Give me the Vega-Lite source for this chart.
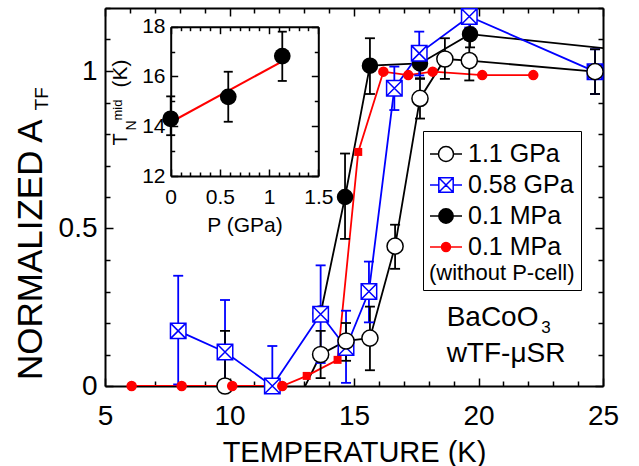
{
  "$schema": "https://vega.github.io/schema/vega-lite/v6.json",
  "width": 498,
  "height": 378,
  "autosize": {"type": "none"},
  "padding": {"left": 105, "top": 8, "right": 36, "bottom": 80},
  "background": "white",
  "config": {
    "view": {"stroke": null},
    "font": "Liberation Sans",
    "axis": {"grid": false, "domainColor": "black", "tickColor": "black", "labelColor": "black", "titleColor": "black", "titleFontWeight": "normal", "labelFont": "Liberation Sans", "titleFont": "Liberation Sans", "domainWidth": 2, "tickWidth": 1.5, "labelFlush": false, "labelOverlap": false},
    "legend": {
      "orient": "none", "legendX": 318, "legendY": 123,
      "titleOrient": "bottom", "titleAnchor": "start", "titleFontSize": 22, "titleFontWeight": "normal", "titlePadding": 3, "titleColor": "black", "titleFont": "Liberation Sans",
      "labelFontSize": 25, "labelFont": "Liberation Sans", "labelColor": "black", "labelOffset": 5, "labelLimit": 300,
      "symbolSize": 1024, "symbolOpacity": 1, "symbolStrokeWidth": 1.5, "rowPadding": 1, "padding": 6,
      "strokeColor": "black", "fillColor": "white"
    },
    "text": {"font": "Liberation Sans", "color": "black"}
  },
  "datasets": {
    "main": [
      {"series": "0.1 MPa", "T": 13.66, "A": 0.23},
      {"series": "0.1 MPa", "T": 14.64, "A": 0.60, "lo": 0.467, "hi": 0.738},
      {"series": "0.1 MPa", "T": 15.64, "A": 1.017, "lo": 0.927, "hi": 1.104},
      {"series": "0.1 MPa", "T": 17.65, "A": 1.024, "lo": 0.975, "hi": 1.075},
      {"series": "0.1 MPa", "T": 19.66, "A": 1.117, "lo": 1.075, "hi": 1.155},
      {"series": "0.1 MPa", "T": 26.0, "A": 1.064},
      {"series": "0.58 GPa", "T": 7.94, "A": 0.175, "lo": 0.005, "hi": 0.35},
      {"series": "0.58 GPa", "T": 9.82, "A": 0.108, "lo": -0.057, "hi": 0.273},
      {"series": "0.58 GPa", "T": 11.72, "A": 0.0, "lo": -0.13, "hi": 0.127},
      {"series": "0.58 GPa", "T": 13.66, "A": 0.228, "lo": 0.073, "hi": 0.383},
      {"series": "0.58 GPa", "T": 14.68, "A": 0.122, "lo": 0.01, "hi": 0.239},
      {"series": "0.58 GPa", "T": 15.6, "A": 0.30, "lo": 0.202, "hi": 0.395},
      {"series": "0.58 GPa", "T": 16.62, "A": 0.945, "lo": 0.876, "hi": 1.014},
      {"series": "0.58 GPa", "T": 17.62, "A": 1.056, "lo": 0.986, "hi": 1.125},
      {"series": "0.58 GPa", "T": 19.63, "A": 1.173, "lo": 1.138, "hi": 1.205},
      {"series": "0.58 GPa", "T": 24.68, "A": 0.998, "lo": 0.927, "hi": 1.069},
      {"series": "1.1 GPa", "T": 9.82, "A": 0.0, "lo": -0.175, "hi": 0.175},
      {"series": "1.1 GPa", "T": 11.8, "A": -0.2},
      {"series": "1.1 GPa", "T": 13.66, "A": 0.10, "lo": 0.025, "hi": 0.175},
      {"series": "1.1 GPa", "T": 14.68, "A": 0.143, "lo": 0.08, "hi": 0.20},
      {"series": "1.1 GPa", "T": 15.64, "A": 0.152, "lo": 0.05, "hi": 0.252},
      {"series": "1.1 GPa", "T": 16.65, "A": 0.444, "lo": 0.372, "hi": 0.512},
      {"series": "1.1 GPa", "T": 17.65, "A": 0.913, "lo": 0.849, "hi": 0.977},
      {"series": "1.1 GPa", "T": 18.65, "A": 1.038, "lo": 0.975, "hi": 1.104},
      {"series": "1.1 GPa", "T": 19.63, "A": 1.033, "lo": 0.97, "hi": 1.10},
      {"series": "1.1 GPa", "T": 24.68, "A": 0.998, "lo": 0.927, "hi": 1.069},
      {"series": "0.1 MPa (without P-cell)", "T": 6.07, "A": 0.0},
      {"series": "0.1 MPa (without P-cell)", "T": 8.08, "A": 0.0},
      {"series": "0.1 MPa (without P-cell)", "T": 10.11, "A": 0.0},
      {"series": "0.1 MPa (without P-cell)", "T": 12.12, "A": 0.0},
      {"series": "0.1 MPa (without P-cell)", "T": 13.1, "A": 0.032, "scan": "fine"},
      {"series": "0.1 MPa (without P-cell)", "T": 14.34, "A": 0.083, "scan": "fine"},
      {"series": "0.1 MPa (without P-cell)", "T": 15.17, "A": 0.743, "scan": "fine"},
      {"series": "0.1 MPa (without P-cell)", "T": 16.18, "A": 0.998},
      {"series": "0.1 MPa (without P-cell)", "T": 17.18, "A": 0.987},
      {"series": "0.1 MPa (without P-cell)", "T": 18.16, "A": 0.998},
      {"series": "0.1 MPa (without P-cell)", "T": 20.15, "A": 0.987},
      {"series": "0.1 MPa (without P-cell)", "T": 22.2, "A": 0.987}
    ],
    "inset": [
      {"P": 0, "Tn": 14.3, "lo": 13.64, "hi": 15.2},
      {"P": 0.585, "Tn": 15.18, "lo": 14.18, "hi": 16.19},
      {"P": 1.134, "Tn": 16.82, "lo": 15.82, "hi": 17.8}
    ],
    "fit": [
      {"P": 0, "Tn": 14.16},
      {"P": 1.19, "Tn": 16.73}
    ]
  },
  "layer": [
    {
      "data": {"name": "main"},
      "layer": [
        {
          "mark": {"type": "line", "strokeWidth": 1.8, "clip": true},
          "encoding": {
            "x": {"field": "T", "type": "quantitative", "scale": {"domain": [5, 25], "nice": false},
              "axis": {"orient": "bottom", "values": [5,6,7,8,9,10,11,12,13,14,15,16,17,18,19,20,21,22,23,24,25], "format": "~g",
                "tickSize": {"condition": {"test": "datum.value % 5 === 0", "value": -8}, "value": -5},
                "labelExpr": "datum.value % 5 === 0 ? datum.label : ''",
                "labelPadding": 24, "labelFontSize": 28, "title": "TEMPERATURE (K)", "titleFontSize": 29, "titlePadding": 5}},
            "y": {"field": "A", "type": "quantitative", "scale": {"domain": [0, 1.2], "nice": false},
              "axis": {"orient": "left", "values": [0,0.1,0.2,0.3,0.4,0.5,0.6,0.7,0.8,0.9,1,1.1,1.2], "format": "~g",
                "tickSize": {"condition": {"test": "round(datum.value*10) % 5 === 0", "value": -8}, "value": -5},
                "labelExpr": "round(datum.value*10) % 5 === 0 ? datum.label : ''",
                "labelPadding": 16, "labelFontSize": 28, "title": null}},
            "color": {"field": "series", "type": "nominal", "scale": {"domain": ["0.58 GPa", "1.1 GPa", "0.1 MPa", "0.1 MPa (without P-cell)"], "range": ["blue", "black", "black", "red"]}, "legend": null}
          }
        },
        {
          "transform": [{"filter": "isValid(datum.lo)"}],
          "mark": {"type": "rule", "strokeWidth": 1.8, "clip": true},
          "encoding": {
            "x": {"field": "T", "type": "quantitative", "scale": {"domain": [5, 25], "nice": false},
              "axis": {"orient": "top", "values": [5,6,7,8,9,10,11,12,13,14,15,16,17,18,19,20,21,22,23,24,25],
                "tickSize": {"condition": {"test": "datum.value % 5 === 0", "value": -8}, "value": -5},
                "labels": false, "title": null}},
            "y": {"field": "lo", "type": "quantitative", "scale": {"domain": [0, 1.2], "nice": false},
              "axis": {"orient": "right", "values": [0,0.1,0.2,0.3,0.4,0.5,0.6,0.7,0.8,0.9,1,1.1,1.2],
                "tickSize": {"condition": {"test": "round(datum.value*10) % 5 === 0", "value": -8}, "value": -5},
                "labels": false, "title": null}},
            "y2": {"field": "hi"},
            "color": {"field": "series", "type": "nominal", "scale": {"domain": ["0.58 GPa", "1.1 GPa", "0.1 MPa", "0.1 MPa (without P-cell)"], "range": ["blue", "black", "black", "red"]}, "legend": null}
          }
        },
        {
          "transform": [{"filter": "isValid(datum.hi)"}],
          "mark": {"type": "point", "shape": "stroke", "filled": false, "size": 100, "strokeWidth": 1.8, "opacity": 1, "clip": true},
          "encoding": {
            "x": {"field": "T", "type": "quantitative", "scale": {"domain": [5, 25], "nice": false}, "axis": null},
            "y": {"field": "hi", "type": "quantitative", "scale": {"domain": [0, 1.2], "nice": false}, "axis": null},
            "color": {"field": "series", "type": "nominal", "scale": {"domain": ["0.58 GPa", "1.1 GPa", "0.1 MPa", "0.1 MPa (without P-cell)"], "range": ["blue", "black", "black", "red"]}, "legend": null}
          }
        },
        {
          "transform": [{"filter": "isValid(datum.lo)"}],
          "mark": {"type": "point", "shape": "stroke", "filled": false, "size": 100, "strokeWidth": 1.8, "opacity": 1, "clip": true},
          "encoding": {
            "x": {"field": "T", "type": "quantitative", "scale": {"domain": [5, 25], "nice": false}, "axis": null},
            "y": {"field": "lo", "type": "quantitative", "scale": {"domain": [0, 1.2], "nice": false}, "axis": null},
            "color": {"field": "series", "type": "nominal", "scale": {"domain": ["0.58 GPa", "1.1 GPa", "0.1 MPa", "0.1 MPa (without P-cell)"], "range": ["blue", "black", "black", "red"]}, "legend": null}
          }
        },
        {
          "transform": [{"filter": "datum.T <= 25 && datum.A >= -0.05 && datum.scan !== 'fine'"}],
          "mark": {"type": "point", "filled": true, "strokeWidth": 1.5, "opacity": 1},
          "encoding": {
            "x": {"field": "T", "type": "quantitative", "scale": {"domain": [5, 25], "nice": false}, "axis": null},
            "y": {"field": "A", "type": "quantitative", "scale": {"domain": [0, 1.2], "nice": false}, "axis": null},
            "shape": {"condition": {"test": "datum.series === '0.58 GPa'", "value": "M-1,-1H1V1H-1ZM-1,-1L1,1M1,-1L-1,1"}, "value": "circle"},
            "fill": {"condition": [
              {"test": "datum.series === '0.1 MPa'", "value": "black"},
              {"test": "datum.series === '0.1 MPa (without P-cell)'", "value": "red"}
            ], "value": "white"},
            "stroke": {"condition": [
              {"test": "datum.series === '0.58 GPa'", "value": "blue"},
              {"test": "datum.series === '0.1 MPa (without P-cell)'", "value": "red"}
            ], "value": "black"},
            "size": {"condition": [
              {"test": "datum.series === '0.1 MPa (without P-cell)'", "value": 81},
              {"test": "datum.series === '1.1 GPa'", "value": 260},
              {"test": "datum.series === '0.1 MPa'", "value": 225}
            ], "value": 240}
          }
        },
        {
          "transform": [{"filter": "datum.scan === 'fine'"}],
          "mark": {"type": "point", "shape": "square", "filled": true, "color": "red", "size": 64, "opacity": 1},
          "encoding": {
            "x": {"field": "T", "type": "quantitative", "scale": {"domain": [5, 25], "nice": false}, "axis": null},
            "y": {"field": "A", "type": "quantitative", "scale": {"domain": [0, 1.2], "nice": false}, "axis": null}
          }
        },
        {
          "transform": [{"filter": "false"}],
          "mark": {"type": "point", "filled": true, "opacity": 1, "strokeWidth": 1.5},
          "encoding": {
            "x": {"field": "T", "type": "quantitative", "scale": {"domain": [5, 25], "nice": false}, "axis": null},
            "y": {"field": "A", "type": "quantitative", "scale": {"domain": [0, 1.2], "nice": false}, "axis": null},
            "shape": {"field": "series", "type": "nominal",
              "scale": {"domain": ["1.1 GPa", "0.58 GPa", "0.1 MPa", "0.1 MPa (without P-cell)"], "range": [
                "M-1,0H-0.47M0.47,0H1M0.47,0A0.47,0.47,0,1,1,-0.47,0A0.47,0.47,0,1,1,0.47,0Z",
                "M-1,0H-0.45M0.45,0H1M-0.45,-0.45H0.45V0.45H-0.45ZM-0.45,-0.45L0.45,0.45M0.45,-0.45L-0.45,0.45",
                "M-1,0H-0.45M0.45,0H1M0.45,0A0.45,0.45,0,1,1,-0.45,0A0.45,0.45,0,1,1,0.45,0Z",
                "M-1,0H1M0.28,0A0.28,0.28,0,1,1,-0.28,0A0.28,0.28,0,1,1,0.28,0Z"]},
              "legend": {"title": "(without P-cell)", "labelExpr": "datum.value === '0.1 MPa (without P-cell)' ? '0.1 MPa' : datum.value"}},
            "fill": {"field": "series", "type": "nominal",
              "scale": {"domain": ["1.1 GPa", "0.58 GPa", "0.1 MPa", "0.1 MPa (without P-cell)"], "range": ["white", "white", "black", "red"]},
              "legend": {"title": "(without P-cell)", "labelExpr": "datum.value === '0.1 MPa (without P-cell)' ? '0.1 MPa' : datum.value"}},
            "stroke": {"field": "series", "type": "nominal",
              "scale": {"domain": ["1.1 GPa", "0.58 GPa", "0.1 MPa", "0.1 MPa (without P-cell)"], "range": ["black", "blue", "black", "red"]},
              "legend": {"title": "(without P-cell)", "labelExpr": "datum.value === '0.1 MPa (without P-cell)' ? '0.1 MPa' : datum.value"}}
          }
        },
        {
          "data": {"values": [{}]},
          "mark": {"type": "text", "text": "NORMALIZED A", "fontSize": 35, "angle": 270, "align": "left", "baseline": "alphabetic"},
          "encoding": {
            "x": {"datum": 2.46, "type": "quantitative", "scale": {"domain": [5, 25], "nice": false}, "axis": null},
            "y": {"datum": 0.019, "type": "quantitative", "scale": {"domain": [0, 1.2], "nice": false}, "axis": null}
          }
        },
        {
          "data": {"values": [{}]},
          "mark": {"type": "text", "text": "TF", "fontSize": 19, "angle": 270, "align": "left", "baseline": "alphabetic"},
          "encoding": {
            "x": {"datum": 2.73, "type": "quantitative", "scale": {"domain": [5, 25], "nice": false}, "axis": null},
            "y": {"datum": 0.875, "type": "quantitative", "scale": {"domain": [0, 1.2], "nice": false}, "axis": null}
          }
        },
        {
          "data": {"values": [{}]},
          "mark": {"type": "text", "text": "BaCoO", "fontSize": 28, "align": "left", "baseline": "alphabetic"},
          "encoding": {
            "x": {"datum": 18.72, "type": "quantitative", "scale": {"domain": [5, 25], "nice": false}, "axis": null},
            "y": {"datum": 0.1905, "type": "quantitative", "scale": {"domain": [0, 1.2], "nice": false}, "axis": null}
          }
        },
        {
          "data": {"values": [{}]},
          "mark": {"type": "text", "text": "3", "fontSize": 17, "align": "left", "baseline": "alphabetic"},
          "encoding": {
            "x": {"datum": 22.52, "type": "quantitative", "scale": {"domain": [5, 25], "nice": false}, "axis": null},
            "y": {"datum": 0.1683, "type": "quantitative", "scale": {"domain": [0, 1.2], "nice": false}, "axis": null}
          }
        },
        {
          "data": {"values": [{}]},
          "mark": {"type": "text", "text": "wTF-μSR", "fontSize": 28, "align": "left", "baseline": "alphabetic"},
          "encoding": {
            "x": {"datum": 18.72, "type": "quantitative", "scale": {"domain": [5, 25], "nice": false}, "axis": null},
            "y": {"datum": 0.0762, "type": "quantitative", "scale": {"domain": [0, 1.2], "nice": false}, "axis": null}
          }
        }
      ],
      "resolve": {"axis": {"x": "independent", "y": "independent"}}
    },
    {
      "layer": [
        {
          "data": {"name": "fit"},
          "mark": {"type": "line", "color": "red", "strokeWidth": 2},
          "encoding": {
            "x": {"field": "P", "type": "quantitative", "scale": {"domain": [0, 1.5], "range": [65.7, 213.3], "nice": false},
              "axis": {"orient": "bottom", "offset": -210, "values": [0,0.1,0.2,0.3,0.4,0.5,0.6,0.7,0.8,0.9,1,1.1,1.2,1.3,1.4,1.5], "format": "~g",
                "tickSize": {"condition": {"test": "round(datum.value*10) % 5 === 0", "value": -7}, "value": -4},
                "labelExpr": "round(datum.value*10) % 5 === 0 ? datum.label : ''",
                "labelPadding": 17.5, "labelFontSize": 21, "title": "P (GPa)", "titleFontSize": 21, "titlePadding": 4}},
            "y": {"field": "Tn", "type": "quantitative", "scale": {"domain": [12, 18], "range": [168, 18.7], "nice": false},
              "axis": {"orient": "left", "offset": -65.7, "values": [12,13,14,15,16,17,18], "format": "~g",
                "tickSize": {"condition": {"test": "datum.value % 2 === 0", "value": -7}, "value": -4},
                "labelExpr": "datum.value % 2 === 0 ? datum.label : ''",
                "labelPadding": 12.7, "labelFontSize": 21, "title": null}}
          }
        },
        {
          "data": {"name": "inset"},
          "mark": {"type": "rule", "color": "black", "strokeWidth": 1.8},
          "encoding": {
            "x": {"field": "P", "type": "quantitative", "scale": {"domain": [0, 1.5], "range": [65.7, 213.3], "nice": false},
              "axis": {"orient": "top", "offset": -18.7, "values": [0,0.1,0.2,0.3,0.4,0.5,0.6,0.7,0.8,0.9,1,1.1,1.2,1.3,1.4,1.5],
                "tickSize": {"condition": {"test": "round(datum.value*10) % 5 === 0", "value": -7}, "value": -4},
                "labels": false, "title": null}},
            "y": {"field": "lo", "type": "quantitative", "scale": {"domain": [12, 18], "range": [168, 18.7], "nice": false},
              "axis": {"orient": "right", "offset": -284.7, "values": [12,13,14,15,16,17,18],
                "tickSize": {"condition": {"test": "datum.value % 2 === 0", "value": -7}, "value": -4},
                "labels": false, "title": null}},
            "y2": {"field": "hi"}
          }
        },
        {
          "data": {"name": "inset"},
          "mark": {"type": "point", "shape": "stroke", "filled": false, "color": "black", "size": 81, "strokeWidth": 1.8, "opacity": 1},
          "encoding": {
            "x": {"field": "P", "type": "quantitative", "scale": {"domain": [0, 1.5], "range": [65.7, 213.3], "nice": false}, "axis": null},
            "y": {"field": "hi", "type": "quantitative", "scale": {"domain": [12, 18], "range": [168, 18.7], "nice": false}, "axis": null}
          }
        },
        {
          "data": {"name": "inset"},
          "mark": {"type": "point", "shape": "stroke", "filled": false, "color": "black", "size": 81, "strokeWidth": 1.8, "opacity": 1},
          "encoding": {
            "x": {"field": "P", "type": "quantitative", "scale": {"domain": [0, 1.5], "range": [65.7, 213.3], "nice": false}, "axis": null},
            "y": {"field": "lo", "type": "quantitative", "scale": {"domain": [12, 18], "range": [168, 18.7], "nice": false}, "axis": null}
          }
        },
        {
          "data": {"name": "inset"},
          "mark": {"type": "point", "shape": "circle", "filled": true, "color": "black", "size": 280, "opacity": 1},
          "encoding": {
            "x": {"field": "P", "type": "quantitative", "scale": {"domain": [0, 1.5], "range": [65.7, 213.3], "nice": false}, "axis": null},
            "y": {"field": "Tn", "type": "quantitative", "scale": {"domain": [12, 18], "range": [168, 18.7], "nice": false}, "axis": null}
          }
        },
        {
          "data": {"values": [{}]},
          "mark": {"type": "text", "text": "T", "fontSize": 20, "angle": 270, "align": "left", "baseline": "alphabetic"},
          "encoding": {
            "x": {"datum": -0.444, "type": "quantitative", "scale": {"domain": [0, 1.5], "range": [65.7, 213.3], "nice": false}, "axis": null},
            "y": {"datum": 13.226, "type": "quantitative", "scale": {"domain": [12, 18], "range": [168, 18.7], "nice": false}, "axis": null}
          }
        },
        {
          "data": {"values": [{}]},
          "mark": {"type": "text", "text": "N", "fontSize": 14, "angle": 270, "align": "left", "baseline": "alphabetic"},
          "encoding": {
            "x": {"datum": -0.348, "type": "quantitative", "scale": {"domain": [0, 1.5], "range": [65.7, 213.3], "nice": false}, "axis": null},
            "y": {"datum": 13.83, "type": "quantitative", "scale": {"domain": [12, 18], "range": [168, 18.7], "nice": false}, "axis": null}
          }
        },
        {
          "data": {"values": [{}]},
          "mark": {"type": "text", "text": "mid", "fontSize": 13, "angle": 270, "align": "left", "baseline": "alphabetic"},
          "encoding": {
            "x": {"datum": -0.49, "type": "quantitative", "scale": {"domain": [0, 1.5], "range": [65.7, 213.3], "nice": false}, "axis": null},
            "y": {"datum": 14.23, "type": "quantitative", "scale": {"domain": [12, 18], "range": [168, 18.7], "nice": false}, "axis": null}
          }
        },
        {
          "data": {"values": [{}]},
          "mark": {"type": "text", "text": "(K)", "fontSize": 21, "angle": 270, "align": "left", "baseline": "alphabetic"},
          "encoding": {
            "x": {"datum": -0.449, "type": "quantitative", "scale": {"domain": [0, 1.5], "range": [65.7, 213.3], "nice": false}, "axis": null},
            "y": {"datum": 15.557, "type": "quantitative", "scale": {"domain": [12, 18], "range": [168, 18.7], "nice": false}, "axis": null}
          }
        }
      ],
      "resolve": {"axis": {"x": "independent", "y": "independent"}}
    }
  ],
  "resolve": {"scale": {"x": "independent", "y": "independent"}}
}
